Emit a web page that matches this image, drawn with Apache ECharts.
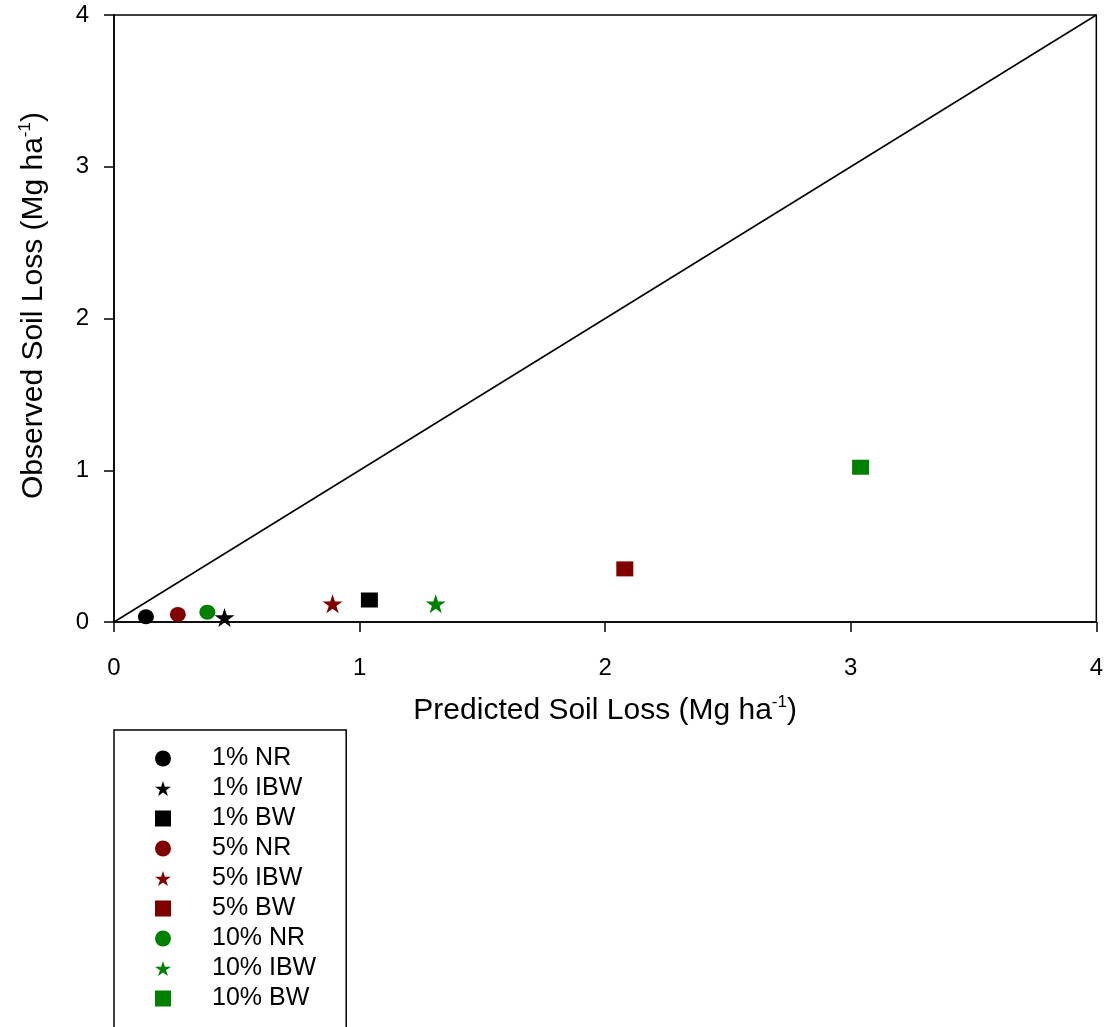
<!DOCTYPE html>
<html>
<head>
<meta charset="utf-8">
<script src="https://cdn.jsdelivr.net/npm/echarts@6/dist/echarts.min.js"></script>
<style>
  html, body { margin: 0; padding: 0; background: #fff; }
  #chart { width: 1106px; height: 1027px; }
</style>
</head>
<body>
<div id="chart"></div>
<script>
// Predicted vs observed soil loss (Mg ha-1) for each slope / treatment
const seriesNames = ['1% NR', '1% IBW', '1% BW', '5% NR', '5% IBW', '5% BW', '10% NR', '10% IBW', '10% BW'];
const predicted = [0.13, 0.45, 1.04, 0.26, 0.89, 2.08, 0.38, 1.31, 3.04];
const observed  = [0.035, 0.03, 0.145, 0.05, 0.12, 0.35, 0.065, 0.12, 1.02];
const seriesColors = ['#000000', '#000000', '#000000', '#800000', '#800000', '#800000', '#008000', '#008000', '#008000'];
const seriesShapes = ['circle', 'star', 'rect', 'circle', 'star', 'rect', 'circle', 'star', 'rect'];
const axisTicks = [0, 1, 2, 3, 4];
const oneToOne = [[0, 0], [4, 4]];

const STAR = 'path://M50,0 L61.2,34.5 L97.6,34.5 L68.2,55.9 L79.4,90.5 L50,69.1 L20.6,90.5 L31.8,55.9 L2.4,34.5 L38.8,34.5 Z';
const shapeSymbol = { circle: 'circle', star: STAR, rect: 'rect' };
const shapeSize = { circle: [16, 15], star: [20, 19], rect: [17, 15] };

const FONT = 'Liberation Sans, Arial, sans-serif';
const supRich = {
  base: { fontSize: 30, fontFamily: FONT, color: '#000' },
  sup: { fontSize: 17, fontFamily: FONT, color: '#000', padding: [0, 0, 16, 0] }
};

const scatterSeries = seriesNames.map((name, i) => ({
  name: name,
  type: 'scatter',
  data: [[predicted[i], observed[i]]],
  symbol: shapeSymbol[seriesShapes[i]],
  symbolSize: shapeSize[seriesShapes[i]],
  itemStyle: { color: seriesColors[i], opacity: 1 },
  z: 5
}));

const chart = echarts.init(document.getElementById('chart'), null, { renderer: 'canvas' });
chart.setOption({
  animation: false,
  backgroundColor: '#fff',
  grid: {
    left: 114, right: 9, top: 15, bottom: 405,
    show: true, borderColor: '#000', borderWidth: 1.5, backgroundColor: 'transparent'
  },
  xAxis: {
    type: 'value', min: axisTicks[0], max: axisTicks[axisTicks.length - 1], interval: 1,
    axisLine: { show: true, onZero: false, lineStyle: { color: '#000', width: 1.5 } },
    axisTick: { show: true, inside: false, length: 10, lineStyle: { color: '#000', width: 1.5 } },
    axisLabel: { color: '#000', fontSize: 24, fontFamily: FONT, margin: 34 },
    splitLine: { show: false },
    name: '{base|Predicted Soil Loss (Mg ha}{sup|-1}{base|)}',
    nameLocation: 'middle', nameGap: 72,
    nameTextStyle: { rich: supRich }
  },
  yAxis: {
    type: 'value', min: axisTicks[0], max: axisTicks[axisTicks.length - 1], interval: 1,
    axisLine: { show: true, onZero: false, lineStyle: { color: '#000', width: 1.5 } },
    axisTick: { show: true, inside: false, length: 10, lineStyle: { color: '#000', width: 1.5 } },
    axisLabel: { color: '#000', fontSize: 24, fontFamily: FONT, margin: 25 },
    splitLine: { show: false },
    name: '{base|Observed Soil Loss (Mg ha}{sup|-1}{base|)}',
    nameLocation: 'middle', nameGap: 64, nameRotate: 90,
    nameTextStyle: { rich: supRich, padding: [0, 0, 0, 26] }
  },
  legend: {
    data: seriesNames,
    orient: 'vertical',
    left: 114, top: 730, height: 400,
    itemWidth: 16, itemHeight: 16, itemGap: 5,
    padding: [16, 30, 40, 41],
    borderColor: '#000', borderWidth: 1.5,
    textStyle: { color: '#000', fontSize: 25, fontFamily: FONT, padding: [0, 0, 0, 36] },
    selectedMode: false
  },
  series: [
    {
      name: '1:1',
      type: 'line',
      data: oneToOne,
      symbol: 'none',
      lineStyle: { color: '#000', width: 1.5 },
      z: 3,
      silent: true
    }
  ].concat(scatterSeries)
});
</script>
</body>
</html>
